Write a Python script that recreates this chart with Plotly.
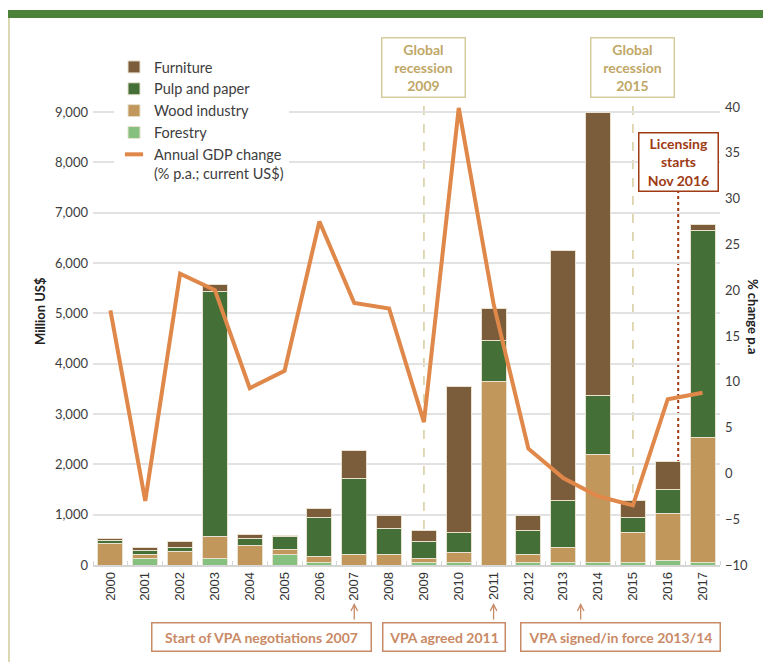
"""Timber sector exports vs GDP change - stacked bars with GDP line."""

import plotly.graph_objects as go

# === Data ===
YEARS = list(range(2000, 2018))
FORESTRY = [0, 123, 0, 123, 0, 208, 44, 0, 0, 40, 44, 0, 44, 44, 44, 44, 83, 44]
WOOD = [433, 85, 274, 437, 387, 94, 125, 208, 208, 80, 210, 3641, 170, 297, 2143, 601, 939, 2480]
PULP = [60, 85, 68, 4880, 133, 258, 767, 1502, 516, 343, 385, 813, 465, 945, 1190, 291, 470, 4119]
FURNITURE = [28, 50, 125, 130, 85, 31, 179, 562, 258, 213, 2917, 641, 303, 4968, 5621, 344, 562, 127]
GDP_CHANGE = [17.8, -3.0, 21.8, 20.0, 9.3, 11.2, 27.5, 18.6, 18.0, 5.6, 39.9, 18.5, 2.7, -0.5, -2.5, -3.5, 8.1, 8.8]

LEFT_TICKS = list(range(0, 10000, 1000))
RIGHT_TICKS = list(range(-10, 45, 5))

# === Style ===
COLORS = {
    "Furniture": "#7B5D3B",
    "Pulp and paper": "#446F36",
    "Wood industry": "#C1975B",
    "Forestry": "#86C07E",
    "gdp": "#E0884A",
}
TEXT = "#3d3d3d"
GRID = "#E2E2E2"
FONT = "Lato"
RECESSION = "#BFA767"
RECESSION_BORDER = "#D5CD9E"
LICENCE = "#9E3B14"
VPA = "#C98A66"

W, H = 771, 662
PAGE_OFF = 8  # the page body margin shifts the figure by this much
ML, MR, MT, MB = 85, 59, 99, 105


def px_x(p):
    # page pixel -> paper x
    return (p - PAGE_OFF - ML) / (W - ML - MR)


def px_y(p):
    # page pixel -> paper y
    return (H - MB - (p - PAGE_OFF)) / (H - MT - MB)


fig = go.Figure()

series = [
    ("Forestry", FORESTRY, 4),
    ("Wood industry", WOOD, 3),
    ("Pulp and paper", PULP, 2),
    ("Furniture", FURNITURE, 1),
]
for name, vals, rank in series:
    fig.add_trace(go.Bar(
        x=YEARS,
        y=vals,
        name=name,
        width=0.72,
        legendrank=rank,
        marker=dict(color=COLORS[name], line=dict(color="#E9E2D0", width=1)),
    ))

fig.add_trace(go.Scatter(
    x=YEARS,
    y=GDP_CHANGE,
    yaxis="y2",
    mode="lines",
    showlegend=False,
    line=dict(color=COLORS["gdp"], width=4),
))
# short legend key for the GDP line
fig.add_trace(go.Scatter(
    x=[None], y=[None],
    yaxis="y2",
    mode="markers",
    name="Annual GDP change<br>(% p.a.; current US$)",
    legendrank=5,
    marker=dict(symbol="line-ew-open", size=13, color=COLORS["gdp"],
                line=dict(color=COLORS["gdp"], width=4)),
))

shapes = [
    # top band and left rule
    dict(type="rect", xref="paper", yref="paper", x0=px_x(8), x1=px_x(780),
         y0=px_y(18), y1=px_y(10), fillcolor="#4C8139", line=dict(width=0)),
    dict(type="line", xref="paper", yref="paper", x0=px_x(9), x1=px_x(9),
         y0=px_y(18), y1=px_y(670), line=dict(color="#D2CB9B", width=1.5)),
    # recession markers
    dict(type="line", xref="x", yref="paper", x0=2009, x1=2009, y0=0, y1=px_y(99),
         layer="below", line=dict(color=RECESSION_BORDER, width=1.5, dash="dash")),
    dict(type="line", xref="x", yref="paper", x0=2015, x1=2015, y0=0, y1=px_y(99),
         layer="below", line=dict(color=RECESSION_BORDER, width=1.5, dash="dash")),
    # licensing start
    dict(type="line", xref="x", yref="paper", x0=2016.3, x1=2016.3, y0=0, y1=px_y(192),
         layer="below", line=dict(color=LICENCE, width=2, dash="dot")),
]

annotations = [
    dict(text="<b>Million US$</b>", x=px_x(40), y=px_y(311), textangle=-90,
         font=dict(size=13, color="#222")),
    dict(text="<b>% change p.a</b>", x=px_x(753), y=px_y(316), textangle=90,
         font=dict(size=13, color="#222")),
    dict(text="<b>Global<br>recession<br>2009</b>", xref="x", x=2009, y=px_y(68),
         width=80, height=56, bgcolor="white", borderwidth=1.5,
         bordercolor=RECESSION_BORDER, font=dict(size=14, color=RECESSION)),
    dict(text="<b>Global<br>recession<br>2015</b>", xref="x", x=2015, y=px_y(68),
         width=80, height=56, bgcolor="white", borderwidth=1.5,
         bordercolor=RECESSION_BORDER, font=dict(size=14, color=RECESSION)),
    dict(text="<b>Licensing<br>starts<br>Nov 2016</b>", xref="x", x=2016.3,
         y=px_y(161.5), width=76, height=55, bgcolor="white",
         borderwidth=1.5, bordercolor=LICENCE, font=dict(size=14, color=LICENCE)),
]

vpa_boxes = [
    ("Start of VPA negotiations 2007", 261, 216, 2007),
    ("VPA agreed 2011", 444.5, 119, 2011),
    ("VPA signed/in force 2013/14", 620, 196, 2013.5),
]
for label, cx, wd, yr in vpa_boxes:
    annotations.append(dict(
        text=f"<b>{label}</b>", x=px_x(cx), y=px_y(636.5),
        width=wd, height=25, borderwidth=1.5, bordercolor=VPA,
        font=dict(size=14, color=VPA),
    ))

for a in annotations:
    a.setdefault("xref", "paper")
    a.setdefault("yref", "paper")
    a.update(showarrow=False, xanchor="center", yanchor="middle")

for label, cx, wd, yr in vpa_boxes:
    annotations.append(dict(
        text="", xref="x", yref="paper", x=yr, y=px_y(603), ax=0, ay=18,
        showarrow=True, arrowhead=5, arrowsize=1, arrowwidth=1.3, arrowcolor=VPA,
    ))

fig.update_layout(
    width=W,
    height=H,
    margin=dict(l=ML, r=MR, t=MT, b=MB, autoexpand=False),
    barmode="stack",
    plot_bgcolor="white",
    paper_bgcolor="white",
    font=dict(family=FONT, color=TEXT, size=13),
    xaxis=dict(
        range=[1999.5, 2017.5],
        tickvals=YEARS,
        ticktext=[str(y) for y in YEARS],
        tickangle=-90,
        tickfont=dict(family="Liberation Sans", size=13, color="#333"),
        showgrid=False,
        zeroline=False,
        showline=True,
        linecolor="#D6D6D6",
        linewidth=1.5,
        ticks="",
        minor=dict(ticks="inside", tick0=1999.5, dtick=1, ticklen=4,
                   tickcolor="#D6D6D6", showgrid=False),
    ),
    yaxis=dict(
        range=[0, 9100],
        tickvals=LEFT_TICKS,
        tickformat=",",
        gridcolor=GRID,
        gridwidth=1.5,
        zeroline=False,
        tickfont=dict(size=13, color=TEXT),
        ticklabelstandoff=4,
    ),
    yaxis2=dict(
        overlaying="y",
        side="right",
        range=[-10, 40],
        tickvals=RIGHT_TICKS,
        showgrid=False,
        zeroline=False,
        tickfont=dict(size=13, color=TEXT),
        ticklabelstandoff=4,
    ),
    legend=dict(
        x=px_x(114),
        y=px_y(51),
        xanchor="left",
        yanchor="top",
        bgcolor="white",
        valign="top",
        traceorder="normal",
        font=dict(size=14.5, color=TEXT),
        tracegroupgap=0,
    ),
    shapes=shapes,
    annotations=annotations,
)

fig.write_html("out.html")
